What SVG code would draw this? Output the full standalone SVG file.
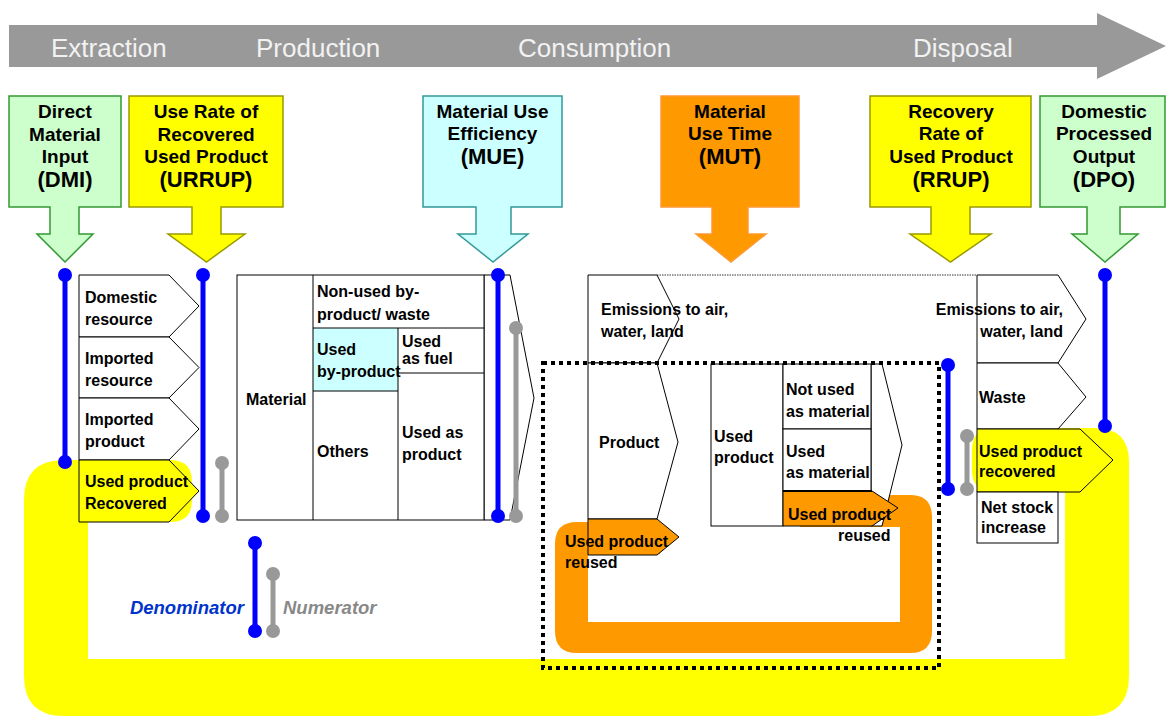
<svg xmlns="http://www.w3.org/2000/svg" width="1166" height="717" viewBox="0 0 1166 717">
<style>
text{font-family:"Liberation Sans",Arial,sans-serif;fill:#000}
.t{font-size:16px;font-weight:bold}
.h{font-size:19px;font-weight:bold;text-anchor:middle}
.hb{font-size:22px;font-weight:bold;text-anchor:middle}
.band{font-size:26px;fill:#f2f2f2}
.box{fill:#fff;stroke:#000;stroke-width:1}
.yel{fill:#ffff00;stroke:#000;stroke-width:1}
.org{fill:#ff9900;stroke:#000;stroke-width:1}
.den{stroke:#0000ff;stroke-width:5}
.num{stroke:#999;stroke-width:5}
.dd{fill:#0000ff}
.nd{fill:#999}
</style>
<rect width="1166" height="717" fill="#fff"/>
<g id="stage-arrow">
<polygon points="9,25 1097,25 1097,13 1166,46 1097,79 1097,67 9,67" fill="#999"/>
<text class="band" x="51" y="57">Extraction</text>
<text class="band" x="256" y="57">Production</text>
<text class="band" x="518" y="57">Consumption</text>
<text class="band" x="913" y="57">Disposal</text>
</g>
<g id="ind-dmi">
<path d="M9,96H121V207H79V234H93L65,262L37,234H50V207H9Z" fill="#ccffcc" stroke="#339933" stroke-width="1.5"/>
<text class="h" x="65" y="118">Direct</text><text class="h" x="65" y="141">Material</text><text class="h" x="65" y="163">Input</text><text class="hb" x="65" y="187">(DMI)</text>
</g>
<g id="ind-urrup">
<path d="M129,96H283V207H221V234H245L206.5,262L168,234H192V207H129Z" fill="#ffff00" stroke="#999900" stroke-width="1.5"/>
<text class="h" x="206" y="118">Use Rate of</text><text class="h" x="206" y="141">Recovered</text><text class="h" x="206" y="163">Used Product</text><text class="hb" x="206" y="187">(URRUP)</text>
</g>
<g id="ind-mue">
<path d="M423,96H562V207H511V234H528L493,262L458,234H476V207H423Z" fill="#ccffff" stroke="#339999" stroke-width="1.5"/>
<text class="h" x="492.5" y="118">Material Use</text><text class="h" x="492.5" y="140">Efficiency</text><text class="hb" x="492.5" y="164">(MUE)</text>
</g>
<g id="ind-mut">
<path d="M661,96H799V207H748V234H766L731,262L696,234H712V207H661Z" fill="#ff9900" stroke="#ff9933" stroke-width="1.5"/>
<text class="h" x="730" y="118">Material</text><text class="h" x="730" y="140">Use Time</text><text class="hb" x="730" y="164">(MUT)</text>
</g>
<g id="ind-rrup">
<path d="M870,96H1031V207H970V234H991L950.5,262L910,234H931V207H870Z" fill="#ffff00" stroke="#999900" stroke-width="1.5"/>
<text class="h" x="951" y="118">Recovery</text><text class="h" x="951" y="140">Rate of</text><text class="h" x="951" y="163">Used Product</text><text class="hb" x="951" y="187">(RRUP)</text>
</g>
<g id="ind-dpo">
<path d="M1040,96H1165V207H1120V234H1138L1105,262L1072,234H1087V207H1040Z" fill="#ccffcc" stroke="#339933" stroke-width="1.5"/>
<text class="h" x="1104" y="118">Domestic</text><text class="h" x="1104" y="140">Processed</text><text class="h" x="1104" y="163">Output</text><text class="hb" x="1104" y="187">(DPO)</text>
</g>
<g id="flows">
<path id="recovery-loop" d="M64,460H170Q192,460 192,482V500Q192,522 170,522H88V659H1065V492H994Q972,492 972,470V450Q972,428 994,428H1095Q1129,428 1129,462V676Q1129,716 1089,716H64Q24,716 24,676V500Q24,460 64,460Z" fill="#ffff00"/>
<path id="reuse-loop" d="M660,522H577Q555,522 555,544V631Q555,653 577,653H910Q932,653 932,631V517Q932,495 910,495H800V527H900V622H588V554H660Z" fill="#ff9900"/>
</g>
<g id="extraction-inputs">
<polygon class="box" points="79,275 169,275 199,306 169,337 79,337"/>
<polygon class="box" points="79,337 169,337 199,367.5 169,398 79,398"/>
<polygon class="box" points="79,398 169,398 199,429 169,460 79,460"/>
<polygon class="yel" points="79,460 169,460 199,491 169,522 79,522"/>
<text class="t" x="85" y="303">Domestic</text><text class="t" x="85" y="325">resource</text>
<text class="t" x="85" y="364">Imported</text><text class="t" x="85" y="386">resource</text>
<text class="t" x="85" y="425">Imported</text><text class="t" x="85" y="447">product</text>
<text class="t" x="85" y="487">Used product</text><text class="t" x="85" y="509">Recovered</text>
</g>
<g id="production">
<polygon class="box" points="484,275 510,275 534,398 510,520 484,520"/>
<rect class="box" x="237" y="275" width="247" height="245"/>
<rect x="313" y="328" width="85" height="63" fill="#ccffff"/>
<g stroke="#000" stroke-width="1">
<line x1="313" y1="275" x2="313" y2="520"/><line x1="398" y1="328" x2="398" y2="520"/>
<line x1="313" y1="328" x2="484" y2="328"/><line x1="313" y1="391" x2="398" y2="391"/><line x1="398" y1="373" x2="484" y2="373"/>
</g>
<text class="t" x="246" y="405">Material</text>
<text class="t" x="317" y="297">Non-used by-</text><text class="t" x="317" y="320">product/ waste</text>
<text class="t" x="317" y="355">Used</text><text class="t" x="317" y="377">by-product</text>
<text class="t" x="402" y="347">Used</text><text class="t" x="402" y="364">as fuel</text>
<text class="t" x="317" y="457">Others</text>
<text class="t" x="402" y="438">Used as</text><text class="t" x="402" y="460">product</text>
</g>
<g id="consumption">
<line x1="657" y1="275" x2="977" y2="275" stroke="#333" stroke-width="1" stroke-dasharray="1.5 1"/>
<polygon class="box" points="588,275 657,275 679,319 657,363 588,363"/>
<polygon class="box" points="588,363 657,363 678,442 657,519 588,519"/>
<polygon class="org" points="588,519 657,519 679,537 657,555 588,555"/>
<text class="t" x="601" y="315">Emissions to air,</text><text class="t" x="601" y="337">water, land</text>
<text class="t" x="599" y="448">Product</text>
<text class="t" x="565" y="547">Used product</text><text class="t" x="565" y="568">reused</text>
<polygon class="box" points="871,364 882,364 902,445 882,526 871,526"/>
<rect class="box" x="711" y="364" width="72" height="162"/>
<rect class="box" x="783" y="364" width="88" height="65"/>
<rect class="box" x="783" y="429" width="88" height="62"/>
<polygon class="org" points="783,491 872,491 898,508 872,526 783,526"/>
<line x1="783" y1="491" x2="872" y2="491" stroke="#000" stroke-width="2"/>
<text class="t" x="714" y="442">Used</text><text class="t" x="714" y="463">product</text>
<text class="t" x="786" y="395">Not used</text><text class="t" x="786" y="417">as material</text>
<text class="t" x="786" y="457">Used</text><text class="t" x="786" y="478">as material</text>
<text class="t" x="788" y="520">Used product</text><text class="t" x="838" y="541">reused</text>
</g>
<g id="disposal">
<polygon class="box" points="977,275 1058,275 1086,319 1058,363 977,363"/>
<polygon class="box" points="977,363 1058,363 1086,397 1058,429 977,429"/>
<polygon class="yel" points="977,429 1080,429 1113,460 1080,492 977,492"/>
<rect class="box" x="977" y="492" width="81" height="51"/>
<text class="t" x="1063" y="315" text-anchor="end">Emissions to air,</text><text class="t" x="1063" y="337" text-anchor="end">water, land</text>
<text class="t" x="979" y="403">Waste</text>
<text class="t" x="979" y="457">Used product</text><text class="t" x="979" y="477">recovered</text>
<text class="t" x="981" y="513">Net stock</text><text class="t" x="981" y="533">increase</text>
</g>
<rect id="reuse-boundary" x="543" y="363" width="396" height="305" fill="none" stroke="#000" stroke-width="4" stroke-dasharray="4 4"/>
<g id="connectors">
<line class="den" x1="65" y1="275" x2="65" y2="462"/><circle class="dd" cx="65" cy="275" r="7"/><circle class="dd" cx="65" cy="462" r="7"/>
<line class="den" x1="203" y1="275" x2="203" y2="516"/><circle class="dd" cx="203" cy="275" r="7"/><circle class="dd" cx="203" cy="516" r="7"/>
<line class="num" x1="222" y1="463" x2="222" y2="516"/><circle class="nd" cx="222" cy="463" r="7"/><circle class="nd" cx="222" cy="516" r="7"/>
<line class="den" x1="498" y1="275" x2="498" y2="516"/><circle class="dd" cx="498" cy="275" r="7"/><circle class="dd" cx="498" cy="516" r="7"/>
<line class="num" x1="516" y1="328" x2="516" y2="516"/><circle class="nd" cx="516" cy="328" r="7"/><circle class="nd" cx="516" cy="516" r="7"/>
<line class="den" x1="948" y1="365" x2="948" y2="489"/><circle class="dd" cx="948" cy="365" r="7"/><circle class="dd" cx="948" cy="489" r="7"/>
<line class="num" x1="967" y1="436" x2="967" y2="489"/><circle class="nd" cx="967" cy="436" r="7"/><circle class="nd" cx="967" cy="489" r="7"/>
<line class="den" x1="1105" y1="275" x2="1105" y2="426"/><circle class="dd" cx="1105" cy="275" r="7"/><circle class="dd" cx="1105" cy="426" r="7"/>
</g>
<g id="legend">
<line class="den" x1="255" y1="543" x2="255" y2="631"/><circle class="dd" cx="255" cy="543" r="7"/><circle class="dd" cx="255" cy="631" r="7"/>
<line class="num" x1="273" y1="574" x2="273" y2="631"/><circle class="nd" cx="273" cy="574" r="7"/><circle class="nd" cx="273" cy="631" r="7"/>
<text x="244" y="614" text-anchor="end" style="font-size:18.5px;font-weight:bold;font-style:italic;fill:#0033cc">Denominator</text>
<text x="283" y="614" style="font-size:18.5px;font-weight:bold;font-style:italic;fill:#888">Numerator</text>
</g>
</svg>
